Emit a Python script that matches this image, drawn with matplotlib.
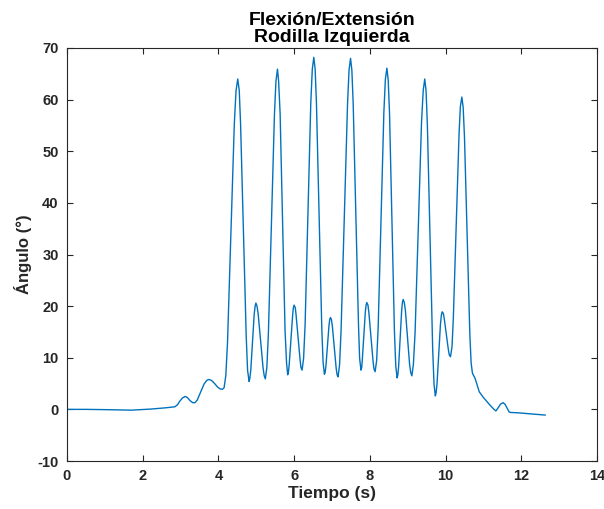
import matplotlib
matplotlib.use("Agg")
import matplotlib.pyplot as plt

# Time (s) and knee angle (deg), one row per stride segment
tiempo = [0.00, 0.50, 1.00, 1.70, 2.20, 2.60, 2.85, 2.92, 2.98, 3.05, 3.12, 3.18, 3.25,
          3.32, 3.38, 3.44, 3.52, 3.62, 3.69, 3.75, 3.82, 3.90, 3.98, 4.05, 4.11, 4.15,
          4.195, 4.24, 4.33, 4.42, 4.465, 4.51, 4.55, 4.585, 4.66, 4.735, 4.77, 4.81,
          4.83, 4.855, 4.90, 4.945, 4.97, 4.99, 5.02, 5.05, 5.115, 5.18, 5.21, 5.24,
          5.28, 5.32, 5.40, 5.48, 5.52, 5.56, 5.59, 5.63, 5.695, 5.76, 5.80, 5.83,
          5.85, 5.87, 5.915, 5.96, 5.98, 6.00, 6.03, 6.05, 6.105, 6.16, 6.18, 6.21,
          6.25, 6.29, 6.365, 6.44, 6.48, 6.52, 6.555, 6.59, 6.66, 6.73, 6.765, 6.80,
          6.82, 6.84, 6.88, 6.92, 6.94, 6.96, 6.985, 7.01, 7.06, 7.11, 7.135, 7.16,
          7.20, 7.24, 7.325, 7.41, 7.45, 7.49, 7.525, 7.56, 7.63, 7.70, 7.73, 7.765,
          7.785, 7.80, 7.84, 7.88, 7.90, 7.92, 7.95, 7.975, 8.03, 8.085, 8.11, 8.14,
          8.18, 8.22, 8.295, 8.37, 8.41, 8.45, 8.485, 8.52, 8.585, 8.65, 8.685, 8.72,
          8.74, 8.76, 8.80, 8.84, 8.86, 8.88, 8.91, 8.94, 8.995, 9.05, 9.08, 9.11,
          9.15, 9.195, 9.28, 9.365, 9.41, 9.45, 9.485, 9.52, 9.59, 9.66, 9.695, 9.73,
          9.75, 9.775, 9.82, 9.865, 9.89, 9.91, 9.94, 9.965, 10.02, 10.075, 10.10, 10.13,
          10.17, 10.205, 10.28, 10.355, 10.39, 10.43, 10.465, 10.50, 10.57, 10.64, 10.675, 10.71,
          10.78, 10.83, 10.89, 11.00, 11.17, 11.28, 11.33, 11.38, 11.45, 11.52, 11.57, 11.63,
          11.68, 11.72, 11.88, 12.63]
angulo = [0.0, 0.0, -0.05, -0.15, 0.05, 0.3, 0.5, 0.9, 1.6, 2.2, 2.5, 2.3, 1.7,
          1.3, 1.3, 1.8, 3.2, 4.9, 5.6, 5.8, 5.6, 5.0, 4.3, 3.95, 3.9, 4.2,
          6.5, 12.9, 34.1, 55.3, 61.7, 64.0, 61.8, 55.4, 34.7, 14.0, 7.6, 5.4,
          6.0, 7.6, 13.0, 18.4, 20.0, 20.6, 20.0, 18.5, 13.25, 8.0, 6.5, 5.9,
          8.2, 14.7, 35.9, 57.1, 63.6, 65.9, 63.6, 57.3, 36.3, 15.3, 9.0, 6.7,
          7.2, 8.7, 13.45, 18.2, 19.7, 20.2, 19.7, 18.4, 13.9, 9.4, 8.1, 7.6,
          9.9, 16.45, 37.9, 59.4, 65.9, 68.2, 65.9, 59.2, 37.5, 15.8, 9.1, 6.8,
          7.2, 8.4, 12.3, 16.2, 17.4, 17.8, 17.4, 16.1, 12.05, 8.0, 6.7, 6.3,
          8.6, 15.3, 37.15, 59.0, 65.7, 68.0, 65.7, 59.2, 37.8, 16.4, 9.9, 7.6,
          8.1, 9.5, 14.15, 18.8, 20.2, 20.7, 20.2, 18.7, 14.0, 9.3, 7.8, 7.3,
          9.5, 15.9, 36.7, 57.5, 63.9, 66.1, 63.8, 57.3, 36.1, 14.9, 8.4, 6.1,
          6.7, 8.3, 13.7, 19.1, 20.7, 21.3, 20.7, 19.1, 13.9, 8.7, 7.1, 6.5,
          8.7, 14.9, 35.25, 55.6, 61.8, 64.0, 61.7, 55.0, 33.3, 11.6, 4.9, 2.6,
          3.2, 5.0, 10.75, 16.5, 18.3, 18.9, 18.6, 17.6, 14.55, 11.5, 10.5, 10.2,
          12.1, 17.6, 35.35, 53.1, 58.6, 60.5, 58.5, 52.7, 33.75, 14.8, 9.0, 7.0,
          6.0, 4.8, 3.4, 2.3, 0.85, 0.0, -0.3, 0.2, 1.0, 1.3, 1.0, 0.2,
          -0.5, -0.6, -0.65, -1.1]

xticks = [0, 2, 4, 6, 8, 10, 12, 14]
yticks = [-10, 0, 10, 20, 30, 40, 50, 60, 70]

plt.rcParams['font.family'] = ['Liberation Sans', 'DejaVu Sans']
plt.rcParams['axes.unicode_minus'] = False

fig = plt.figure(figsize=(6.04, 5.09), dpi=100)
ax = fig.add_axes([0.1109, 0.0943, 0.8775, 0.8114])
ax.plot(tiempo, angulo, color='#0072BD', lw=1.0)

ax.set_xlim(0, 14)
ax.set_ylim(-10, 70)
ax.set_xticks(xticks)
ax.set_yticks(yticks)
ax.tick_params(direction='in', top=True, right=True, length=4, width=0.8,
               labelsize=10.5, colors='#262626', pad=6)
for lab in ax.get_xticklabels() + ax.get_yticklabels():
    lab.set_fontweight('bold')
for s in ax.spines.values():
    s.set_color('#262626')
    s.set_linewidth(0.8)

ax.set_xlabel('Tiempo (s)', fontsize=12.5, fontweight='bold', color='#262626', labelpad=2)
ax.set_ylabel('Ángulo (°)', fontsize=12, fontweight='bold', color='#262626', labelpad=4)
ax.set_title('Flexión/Extensión\nRodilla Izquierda', fontsize=14, fontweight='bold',
             color='black', linespacing=1.0, pad=4)

fig.savefig('out.png', dpi=100)
